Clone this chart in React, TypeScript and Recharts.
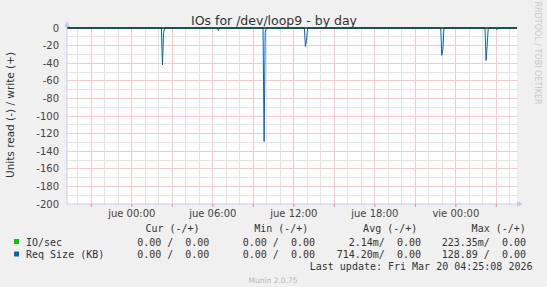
import React from "react";
import { LineChart, Line, XAxis, YAxis, ReferenceLine } from "recharts";

// hours relative to "jue 00:00"
const X_DOMAIN: [number, number] = [-4.8, 28.53];
const Y_DOMAIN: [number, number] = [-200, 0];

const xTickHours = [-3, 0, 3, 6, 9, 12, 15, 18, 21, 24, 27];
const xTickLabels: Record<number, string> = { 0: "jue 00:00", 6: "jue 06:00", 12: "jue 12:00", 18: "jue 18:00", 24: "vie 00:00" };
const yTicks = [0, -20, -40, -60, -80, -100, -120, -140, -160, -180, -200];

const minorGridHours = [-4, -2, -1, 1, 2, 4, 5, 7, 8, 10, 11, 13, 14, 16, 17, 19, 20, 22, 23, 25, 26, 28];
const majorGridHours = [-3, 0, 3, 6, 9, 12, 15, 18, 21, 24, 27];
const minorGridValues = [-10, -30, -50, -70, -90, -110, -130, -150, -170, -190];
const majorGridValues = [-20, -40, -60, -80, -100, -120, -140, -160, -180];

// IO/sec (read side, negated) – flat near zero all day
const ioTimes = [-4.8, 28.53];
const ioValues = [0, 0];

// Req Size (KB) read side, negated
const reqTimes = [
  -4.8,
  2.19, 2.27, 2.35, 2.43,
  6.33, 6.41, 6.49,
  9.72, 9.8, 9.88, 9.96,
  12.78, 12.86, 12.94, 13.02,
  22.88, 22.96, 23.04, 23.12,
  26.16, 26.24, 26.32, 26.4,
  26.95, 27.03, 27.11,
  28.53,
];
const reqValues = [
  0,
  0, -42, -6, 0,
  0, -3, 0,
  0, -129, -5, 0,
  0, -21, -14, 0,
  0, -31, -24, 0,
  0, -37, -20, 0,
  0, -2, 0,
  0,
];

const legendRows = [
  { name: "IO/sec", color: "#00cc00", cur: "0.00 /  0.00", min: "0.00 /  0.00", avg: "2.14m/  0.00", max: "223.35m/  0.00" },
  { name: "Req Size (KB)", color: "#0066b3", cur: "0.00 /  0.00", min: "0.00 /  0.00", avg: "714.20m/  0.00", max: "128.89 /  0.00" },
];

const ioData = ioTimes.map((t, i) => ({ t, v: ioValues[i] }));
const reqData = reqTimes.map((t, i) => ({ t, v: reqValues[i] }));

// grid lines as two-point series so they go through the chart's scales
const vLine = (h: number) => [{ t: h, v: Y_DOMAIN[0] }, { t: h, v: Y_DOMAIN[1] }];
const hLine = (v: number) => [{ t: X_DOMAIN[0], v }, { t: X_DOMAIN[1], v }];
const gridSeries = [
  ...minorGridHours.map((h) => ({ id: "mx" + h, data: vLine(h), color: "#e4e4e4" })),
  ...minorGridValues.map((v) => ({ id: "my" + v, data: hLine(v), color: "#e4e4e4" })),
  ...majorGridHours.map((h) => ({ id: "Mx" + h, data: vLine(h), color: "#f6caca" })),
  ...majorGridValues.map((v) => ({ id: "My" + v, data: hLine(v), color: "#f6caca" })),
];

const W = 547;
const H = 287;
const AXIS = "#c8cbf0";
const FONT = "'DejaVu Sans', sans-serif";
const MONO = "'DejaVu Sans Mono', monospace";

// keep the double spaces of the rrdtool legend
const nb = (s: string) => s.replace(/ /g, "\u00a0");

const XTick = (props: any) => {
  const { x, y, payload } = props;
  const label = xTickLabels[payload.value];
  if (!label) return null;
  return (
    <text x={x} y={y} dy="0.71em" textAnchor="middle" fill="#444" fontSize={10} fontFamily={FONT}>
      {label}
    </text>
  );
};

export default function App() {
  return (
    <div style={{ position: "absolute", left: 0, top: 0, width: W, height: H, background: "#f0f0f0" }}>
      {/* white canvas behind the plot area */}
      <div style={{ position: "absolute", left: 67, top: 28, width: 450, height: 176, background: "#ffffff" }} />
      <div style={{ position: "absolute", left: 0, top: 0 }}>
        <LineChart width={W} height={H} data={reqData} margin={{ top: 28, right: 30, bottom: 63, left: 7 }}>
          <XAxis
            type="number"
            dataKey="t"
            domain={X_DOMAIN}
            ticks={xTickHours}
            allowDataOverflow
            height={20}
            axisLine={{ stroke: AXIS }}
            tickLine={{ stroke: "#e88" }}
            tickSize={3}
            tickMargin={3}
            tick={<XTick />}
          />
          <YAxis
            type="number"
            domain={Y_DOMAIN}
            ticks={yTicks}
            width={60}
            axisLine={{ stroke: AXIS }}
            tickLine={false}
            tickSize={6}
            tickMargin={2}
            interval={0}
            tick={{ fill: "#444", fontSize: 10, fontFamily: FONT }}
          />
          {gridSeries.map((g) => (
            <Line
              key={g.id}
              data={g.data}
              dataKey="v"
              stroke={g.color}
              strokeWidth={1}
              shapeRendering="crispEdges"
              dot={false}
              activeDot={false}
              legendType="none"
              isAnimationActive={false}
            />
          ))}
          <Line data={ioData} dataKey="v" stroke="#00cc00" strokeWidth={1} dot={false} isAnimationActive={false} />
          <Line data={reqData} dataKey="v" stroke="#0066b3" strokeWidth={1} dot={false} isAnimationActive={false} />
          <ReferenceLine y={0} stroke="#000000" strokeWidth={1} />
        </LineChart>
      </div>

      <svg width={W} height={H} style={{ position: "absolute", left: 0, top: 0, pointerEvents: "none" }}>
        {/* axis arrows */}
        <polygon points="64,27 70,27 67,21" fill={AXIS} />
        <polygon points="517,201 517,207 523,204" fill={AXIS} />

        <text x={274} y={24.5} textAnchor="middle" fontSize={12.5} fill="#333" fontFamily={FONT}>
          IOs for /dev/loop9 - by day
        </text>
        <text transform="translate(14,115) rotate(-90)" textAnchor="middle" fontSize={10.5} fill="#333" fontFamily={FONT}>
          Units read (-) / write (+)
        </text>
        <text transform="translate(535,53) rotate(90)" textAnchor="middle" fontSize={8} fill="#c8c8c8" fontFamily={FONT}>
          RRDTOOL / TOBI OETIKER
        </text>

        <g fontFamily={MONO} fontSize={10} fill="#333">
          <text x={199.6} y={232} textAnchor="end">{nb("Cur (-/+)")}</text>
          <text x={308.4} y={232} textAnchor="end">{nb("Min (-/+)")}</text>
          <text x={417.3} y={232} textAnchor="end">{nb("Avg (-/+)")}</text>
          <text x={525.8} y={232} textAnchor="end">{nb("Max (-/+)")}</text>
          {legendRows.map((r, i) => {
            const y = 245.5 + i * 12.5;
            return (
              <g key={r.name}>
                <rect x={14} y={y - 6.5} width={5} height={5} fill={r.color} />
                <text x={26} y={y}>{nb(r.name)}</text>
                <text x={209.4} y={y} textAnchor="end">{nb(r.cur)}</text>
                <text x={315} y={y} textAnchor="end">{nb(r.min)}</text>
                <text x={421} y={y} textAnchor="end">{nb(r.avg)}</text>
                <text x={526} y={y} textAnchor="end">{nb(r.max)}</text>
              </g>
            );
          })}
          <text x={532.5} y={270} textAnchor="end">{nb("Last update: Fri Mar 20 04:25:08 2026")}</text>
        </g>
        <text x={273} y={282.5} textAnchor="middle" fontSize={7.5} fill="#b8b8b8" fontFamily={FONT}>
          Munin 2.0.75
        </text>
      </svg>
    </div>
  );
}
